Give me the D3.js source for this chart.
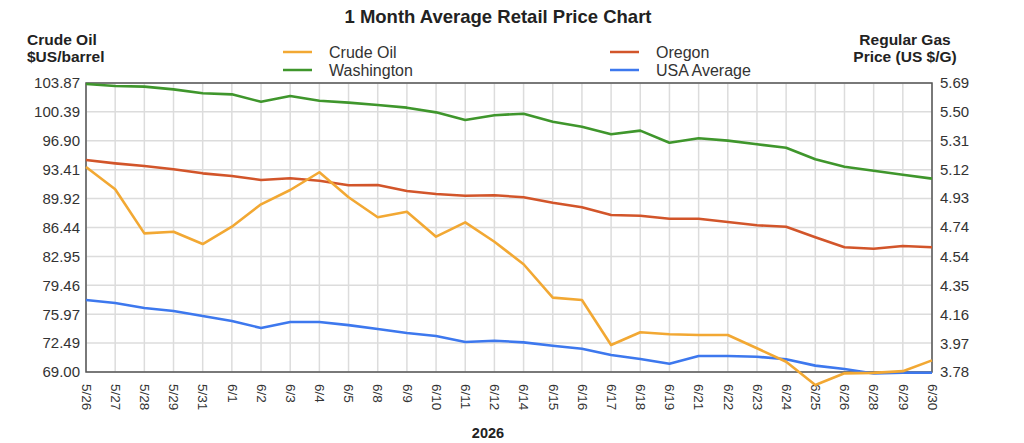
<!DOCTYPE html>
<html>
<head>
<meta charset="utf-8">
<script src="https://cdn.jsdelivr.net/npm/d3@7"></script>
<style>
  body { margin: 0; background: #fff; }
  svg { font-family: "Liberation Sans", Arial, sans-serif; }
</style>
</head>
<body>
<div id="chart"></div>
<script>
const dates = ["5/26","5/27","5/28","5/29","5/31","6/1","6/2","6/3","6/4","6/5","6/8","6/9","6/10","6/11","6/12",
  "6/14","6/15","6/16","6/17","6/18","6/19","6/21","6/22","6/23","6/24","6/25","6/26","6/28","6/29","6/30"];

// crude oil, left axis ($US/barrel)
const crudeOil = [93.74,91.05,85.73,85.93,84.44,86.53,89.23,90.96,93.10,90.08,87.67,88.34,85.33,87.06,84.72,
  82.00,77.97,77.69,72.26,73.79,73.55,73.46,73.46,71.86,70.24,67.43,68.84,68.90,69.10,70.40];

// gas prices, right axis (US $/G)
const washington = [5.683,5.670,5.666,5.648,5.622,5.615,5.566,5.604,5.573,5.560,5.545,5.527,5.496,5.445,5.477,
  5.487,5.434,5.401,5.351,5.375,5.295,5.325,5.309,5.285,5.262,5.186,5.137,5.110,5.084,5.058];
const oregon = [5.181,5.159,5.141,5.120,5.093,5.075,5.049,5.060,5.044,5.014,5.016,4.976,4.956,4.945,4.948,
  4.935,4.899,4.869,4.818,4.813,4.793,4.793,4.771,4.750,4.740,4.670,4.604,4.595,4.613,4.604];
const usaAverage = [4.256,4.236,4.203,4.183,4.150,4.117,4.071,4.110,4.110,4.090,4.064,4.038,4.018,3.978,3.987,
  3.976,3.954,3.934,3.892,3.866,3.835,3.886,3.886,3.881,3.864,3.822,3.800,3.770,3.775,3.775];

const leftTicks = [69.00,72.49,75.97,79.46,82.95,86.44,89.92,93.41,96.90,100.39,103.87];
const rightTicks = [3.78,3.97,4.16,4.35,4.54,4.74,4.93,5.12,5.31,5.50,5.69];

const colors = {"Crude Oil":"#f2a833","Oregon":"#d2552a","Washington":"#3f962c","USA Average":"#3d78ee"};

const W = 1024, H = 443;
const margin = { top: 83, right: 92, bottom: 71, left: 86 };
const width = W - margin.left - margin.right;
const height = H - margin.top - margin.bottom;

const svg = d3.select("#chart").append("svg")
  .attr("width", W).attr("height", H);

const g = svg.append("g")
  .attr("transform", "translate(" + margin.left + "," + margin.top + ")");

const x = d3.scalePoint().domain(dates).range([0, width]);
const yL = d3.scaleLinear().domain([69.00, 103.87]).range([height, 0]);
const yR = d3.scaleLinear().domain([3.78, 5.69]).range([height, 0]);

// grid
g.append("g").selectAll("line").data(dates).enter().append("line")
  .attr("x1", d => x(d)).attr("x2", d => x(d))
  .attr("y1", 0).attr("y2", height)
  .attr("stroke", "#dcdcdc").attr("stroke-width", 1.5);
g.append("g").selectAll("line").data(leftTicks).enter().append("line")
  .attr("x1", 0).attr("x2", width)
  .attr("y1", d => yL(d)).attr("y2", d => yL(d))
  .attr("stroke", "#dcdcdc").attr("stroke-width", 1.5);

// axes
const axL = g.append("g")
  .call(d3.axisLeft(yL).tickValues(leftTicks).tickSize(0).tickPadding(6).tickFormat(d3.format(".2f")));
const axR = g.append("g").attr("transform", "translate(" + width + ",0)")
  .call(d3.axisRight(yR).tickValues(rightTicks).tickSize(0).tickPadding(8).tickFormat(d3.format(".2f")));
const axB = g.append("g").attr("transform", "translate(0," + height + ")")
  .call(d3.axisBottom(x).tickSize(0));
axB.selectAll("text")
  .attr("transform", "rotate(90)")
  .attr("x", 12).attr("y", 0).attr("dy", "0.35em")
  .style("text-anchor", "start");

[axL, axR].forEach(a => {
  a.select(".domain").remove();
  a.selectAll("text").attr("fill", "#333").style("font-size", "15px");
});
axB.select(".domain").remove();
axB.selectAll("text").attr("fill", "#333").style("font-size", "13.5px");

// frame
g.append("rect").attr("x", 0).attr("y", 0).attr("width", width).attr("height", height)
  .attr("fill", "none").attr("stroke", "#555").attr("stroke-width", 1.5);

// lines
const lineL = d3.line().x((d, i) => x(dates[i])).y(d => yL(d));
const lineR = d3.line().x((d, i) => x(dates[i])).y(d => yR(d));

const draw = (vals, gen, name) => g.append("path")
  .datum(vals).attr("d", gen)
  .attr("fill", "none").attr("stroke", colors[name])
  .attr("stroke-width", 2.6).attr("stroke-linejoin", "round");

draw(washington, lineR, "Washington");
draw(oregon, lineR, "Oregon");
draw(usaAverage, lineR, "USA Average");
draw(crudeOil, lineL, "Crude Oil");

// title
svg.append("text").attr("x", 498).attr("y", 23)
  .attr("text-anchor", "middle").attr("font-weight", "bold")
  .style("font-size", "18.5px").attr("fill", "#222")
  .text("1 Month Average Retail Price Chart");

// axis titles
svg.append("text").attr("y", 45)
  .attr("font-weight", "bold").style("font-size", "15.5px").attr("fill", "#222")
  .selectAll("tspan").data(["Crude Oil", "$US/barrel"]).enter().append("tspan")
  .attr("x", 27).attr("dy", (d, i) => i ? 17 : 0).text(d => d);
svg.append("text").attr("y", 45)
  .attr("text-anchor", "middle")
  .attr("font-weight", "bold").style("font-size", "15.5px").attr("fill", "#222")
  .selectAll("tspan").data(["Regular Gas", "Price (US $/G)"]).enter().append("tspan")
  .attr("x", 905).attr("dy", (d, i) => i ? 17 : 0).text(d => d);

svg.append("text").attr("x", 488).attr("y", 438)
  .attr("text-anchor", "middle").attr("font-weight", "bold")
  .style("font-size", "14.5px").attr("fill", "#222").text("2026");

// legend
const legendPos = [
  { name: "Crude Oil", x: 283, y: 52 },
  { name: "Washington", x: 283, y: 70 },
  { name: "Oregon", x: 610, y: 52 },
  { name: "USA Average", x: 610, y: 70 }
];
const leg = svg.append("g").selectAll("g").data(legendPos).enter().append("g")
  .attr("transform", d => "translate(" + d.x + "," + d.y + ")");
leg.append("line").attr("x1", 0).attr("x2", 29).attr("y1", 0).attr("y2", 0)
  .attr("stroke", d => colors[d.name]).attr("stroke-width", 2.5);
leg.append("text").attr("x", 46).attr("dy", "0.35em")
  .style("font-size", "16px").attr("fill", "#333").text(d => d.name);
</script>
</body>
</html>
